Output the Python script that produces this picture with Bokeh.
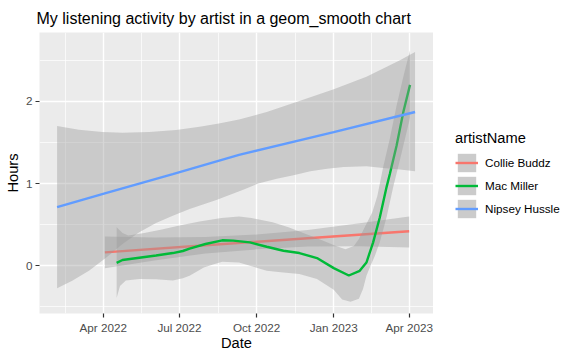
import pandas as pd
from bokeh.plotting import figure
from bokeh.layouts import row
from bokeh.models import (FixedTicker, DatetimeTickFormatter, Legend, LegendItem, Range1d)
from bokeh.embed import file_html
from bokeh.resources import INLINE

FONT = "Liberation Sans"

artists = ["Collie Buddz", "Mac Miller", "Nipsey Hussle"]
colors = ["#F8766D", "#00BA38", "#619CFF"]

# ---- Collie Buddz ----
collie_dates = ["2022-04-03", "2022-08-01", "2022-12-01", "2023-04-01"]
collie_hours = [0.163, 0.25, 0.335, 0.42]
collie_band_dates = ["2022-04-03", "2022-06-01", "2022-08-01", "2022-10-01",
                     "2022-12-01", "2023-02-01", "2023-04-01"]
collie_upper = [0.355, 0.345, 0.35, 0.38, 0.435, 0.518, 0.60]
collie_lower = [-0.03, 0.065, 0.15, 0.20, 0.235, 0.238, 0.224]

# ---- Mac Miller ----
mac_dates = ["2022-04-17", "2022-04-24", "2022-05-14", "2022-06-03", "2022-06-23",
             "2022-07-05", "2022-07-13", "2022-08-01", "2022-08-21", "2022-09-03",
             "2022-09-23", "2022-10-13", "2022-11-02", "2022-11-21", "2022-12-12",
             "2023-01-01", "2023-01-19", "2023-02-01", "2023-02-09", "2023-02-17",
             "2023-02-25", "2023-03-05", "2023-03-09", "2023-03-17", "2023-03-25",
             "2023-04-02"]
mac_hours = [0.035, 0.07, 0.098, 0.125, 0.155,
             0.18, 0.21, 0.265, 0.31, 0.306,
             0.285, 0.232, 0.183, 0.155, 0.094,
             -0.028, -0.118, -0.061, 0.04, 0.285,
             0.59, 0.957, 1.12, 1.463, 1.87,
             2.2]
mac_upper_dates = ["2022-04-17", "2022-04-24", "2022-05-01", "2022-05-20", "2022-06-10",
                   "2022-07-01", "2022-07-25", "2022-08-20", "2022-09-10", "2022-09-25",
                   "2022-10-20", "2022-11-08", "2022-11-28", "2022-12-18", "2023-01-03",
                   "2023-01-15", "2023-01-25", "2023-01-31", "2023-02-08", "2023-02-16",
                   "2023-02-22", "2023-03-01", "2023-03-09", "2023-03-17", "2023-03-25",
                   "2023-04-02"]
mac_upper = [0.47, 0.40, 0.37, 0.40, 0.44,
             0.49, 0.54, 0.58, 0.60, 0.58,
             0.53, 0.47, 0.39, 0.31, 0.245,
             0.20, 0.24, 0.326, 0.49, 0.65,
             0.85, 1.2, 1.55, 1.95, 2.3,
             2.62]
mac_lower_dates = ["2022-04-17", "2022-04-21", "2022-04-28", "2022-05-14", "2022-06-03",
                   "2022-06-23", "2022-07-05", "2022-07-13", "2022-07-30", "2022-08-11",
                   "2022-08-21", "2022-09-10", "2022-09-23", "2022-10-13", "2022-11-02",
                   "2022-11-21", "2022-12-12", "2023-01-01", "2023-01-11", "2023-01-21",
                   "2023-01-31", "2023-02-05", "2023-02-09", "2023-02-13", "2023-02-19",
                   "2023-02-25", "2023-03-05", "2023-03-13", "2023-03-21", "2023-04-02"]
mac_lower = [-0.39, -0.245, -0.18, -0.16, -0.165,
             -0.18, -0.15, -0.12, -0.02, 0.02,
             0.05, 0.04, 0.0, -0.06, -0.08,
             -0.10, -0.16, -0.29, -0.41, -0.436,
             -0.40, -0.28, -0.12, -0.02, 0.12,
             0.29, 0.59, 0.96, 1.29, 1.8]

# ---- Nipsey Hussle ----
nipsey_dates = ["2022-02-05", "2022-04-04", "2022-06-23", "2022-09-10", "2023-01-01", "2023-04-08"]
nipsey_hours = [0.713, 0.883, 1.115, 1.348, 1.626, 1.87]
nipsey_upper_dates = ["2022-02-05", "2022-03-03", "2022-03-31", "2022-04-24", "2022-05-26",
                      "2022-06-27", "2022-07-25", "2022-08-17", "2022-09-10", "2022-10-13",
                      "2022-11-21", "2023-01-01", "2023-02-09", "2023-03-21", "2023-04-08"]
nipsey_upper = [1.70, 1.654, 1.626, 1.617, 1.626,
                1.65, 1.69, 1.73, 1.78, 1.87,
                2.005, 2.148, 2.30, 2.50, 2.60]
nipsey_lower_dates = ["2022-02-05", "2022-02-23", "2022-03-15", "2022-04-04", "2022-04-24",
                      "2022-05-14", "2022-06-03", "2022-06-23", "2022-07-13", "2022-08-14",
                      "2022-09-15", "2022-10-03", "2022-10-25", "2022-11-14", "2022-12-04",
                      "2022-12-24", "2023-01-13", "2023-02-09", "2023-03-01", "2023-03-21",
                      "2023-04-08"]
nipsey_lower = [-0.273, -0.183, -0.061, 0.094, 0.265,
                0.407, 0.52, 0.61, 0.69, 0.80,
                0.925, 1.0, 1.06, 1.10, 1.15,
                1.18, 1.20, 1.21, 1.19, 1.17,
                1.15]

# axis settings
x_start, x_end = "2022-01-15", "2023-04-30"
y_start, y_end = -0.58, 2.837
x_major = ["2022-04-01", "2022-07-01", "2022-10-01", "2023-01-01", "2023-04-01"]
x_minor = ["2022-02-15", "2022-05-16 12:00", "2022-08-16", "2022-11-16", "2023-02-15"]
y_major = [0, 1, 2]
y_minor = [-0.5, 0.5, 1.5, 2.5]


def ms(s):
    return pd.Timestamp(s).value / 1e6


def dt(lst):
    return pd.to_datetime(lst)


H = 359
p = figure(width=433, height=H, x_axis_type="datetime", output_backend="svg",
           toolbar_location=None,
           x_range=Range1d(pd.Timestamp(x_start), pd.Timestamp(x_end)),
           y_range=Range1d(y_start, y_end),
           min_border_left=39, min_border_right=0, min_border_top=32, min_border_bottom=46)

p.background_fill_color = "#EBEBEB"
p.border_fill_color = "white"
p.outline_line_color = None

series = [
    (collie_dates, collie_hours, collie_band_dates, collie_upper, collie_band_dates, collie_lower),
    (mac_dates, mac_hours, mac_upper_dates, mac_upper, mac_lower_dates, mac_lower),
    (nipsey_dates, nipsey_hours, nipsey_upper_dates, nipsey_upper, nipsey_lower_dates, nipsey_lower),
]

for name, col, (ld, lh, ud, uv, lod, lov) in zip(artists, colors, series):
    bx = list(dt(ud)) + list(dt(lod))[::-1]
    by = list(uv) + list(lov)[::-1]
    p.patch(bx, by, fill_color="#999999", fill_alpha=0.4, line_color=None)
    p.line(dt(ld), lh, line_color=col, line_width=2.4)

# title
p.title.text = "My listening activity by artist in a geom_smooth chart"
p.title.text_font = FONT
p.title.text_font_size = "16px"
p.title.text_font_style = "normal"
p.title.text_color = "black"
p.title.align = "left"
p.title.offset = -3
p.title.standoff = 11

# axes
p.xaxis.ticker = FixedTicker(ticks=[ms(s) for s in x_major], minor_ticks=[ms(s) for s in x_minor])
fmt = "%b %Y"
p.xaxis.formatter = DatetimeTickFormatter(milliseconds=fmt, seconds=fmt, minsec=fmt, minutes=fmt,
                                          hourmin=fmt, hours=fmt, days=fmt, months=fmt, years=fmt)
p.yaxis.ticker = FixedTicker(ticks=y_major, minor_ticks=y_minor)

for ax in (p.xaxis, p.yaxis):
    ax.axis_line_color = None
    ax.major_tick_line_color = "#333333"
    ax.major_tick_line_width = 1.2
    ax.major_tick_out = 4
    ax.major_tick_in = 0
    ax.minor_tick_line_color = None
    ax.major_label_text_font = FONT
    ax.major_label_text_font_size = "11.7px"
    ax.major_label_text_color = "#4D4D4D"
    ax.major_label_standoff = 3
    ax.axis_label_text_font = FONT
    ax.axis_label_text_font_size = "14.67px"
    ax.axis_label_text_font_style = "normal"
    ax.axis_label_text_color = "black"
    ax.axis_label_standoff = 2

p.xaxis.axis_label_standoff = -2
p.xaxis.major_label_standoff = 3

p.xaxis.axis_label = "Date"
p.yaxis.axis_label = "Hours"

for g in (p.xgrid, p.ygrid):
    g.grid_line_color = "white"
    g.grid_line_width = 1.4
    g.minor_grid_line_color = "white"
    g.minor_grid_line_width = 0.7

# ---- legend panel (separate figure to the right) ----
lf = figure(width=148, height=H, output_backend="svg", toolbar_location=None,
            x_axis_location=None, y_axis_location=None,
            x_range=Range1d(0, 1), y_range=Range1d(0, 1),
            min_border_left=0, min_border_right=0, min_border_top=0, min_border_bottom=0)
lf.outline_line_color = None
lf.background_fill_color = "white"
lf.border_fill_color = "white"
lf.xgrid.visible = False
lf.ygrid.visible = False

# key glyphs live outside the visible range; only their legend swatches show
key_x = [-2, -1]
key_y = [-2, -1]
items = []
for name, col in zip(artists, colors):
    key = lf.varea(x=key_x, y1=key_y, y2=key_y, fill_color="#CBCBCB")
    kl = lf.line(x=key_x, y=key_y, line_color=col, line_width=2.4)
    items.append(LegendItem(label=name, renderers=[key, kl]))

legend = Legend(items=items, location=(22, 93))
legend.title = "artistName"
legend.title_text_font = FONT
legend.title_text_font_size = "14.67px"
legend.title_text_font_style = "normal"
legend.title_text_color = "black"
legend.title_standoff = 5
legend.label_text_font = FONT
legend.label_text_font_size = "11.7px"
legend.label_text_color = "black"
legend.glyph_width = 23
legend.glyph_height = 23
legend.label_height = 23
legend.spacing = 0
legend.padding = 0
legend.margin = 0
legend.label_standoff = 7
legend.background_fill_alpha = 0
legend.border_line_alpha = 0
lf.add_layout(legend)

layout = row(p, lf, spacing=0)
open("out.html", "w").write(file_html(layout, INLINE))
